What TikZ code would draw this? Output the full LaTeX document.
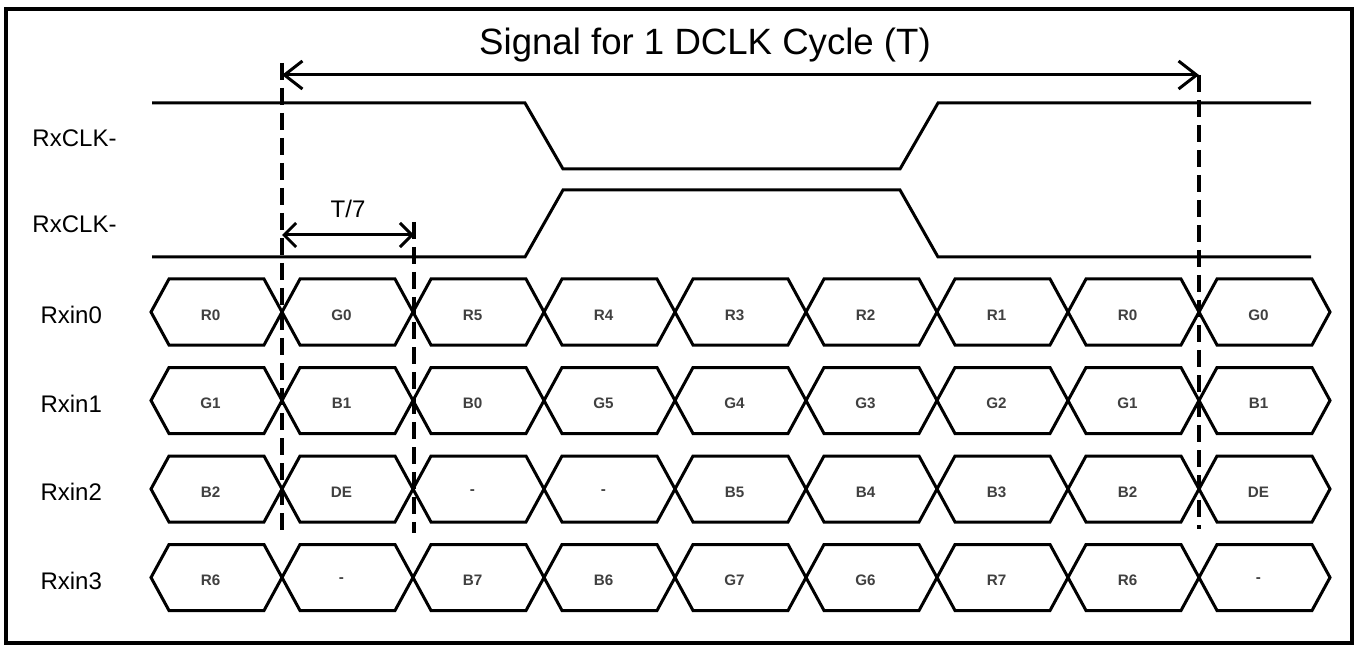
\documentclass[tikz,border=0pt]{standalone}
\usepackage{fontspec}
\setmainfont{Liberation Sans}
\usetikzlibrary{arrows.meta}

\begin{document}
\begin{tikzpicture}[x=0.5pt,y=-0.5pt,line width=1.5pt,
	lbl/.style={font=\fontsize{12}{14}\selectfont,inner sep=0pt},
	bit/.style={font=\fontsize{7.6}{9}\selectfont\bfseries,text=black!75},
	guide/.style={line width=1.8pt,dash pattern=on 8.5pt off 4pt},
	cyclearrow/.style={{Straight Barb[length=9pt,width=14pt]}-{Straight Barb[length=9pt,width=14pt]}},
	steparrow/.style={{Straight Barb[length=6pt,width=12pt]}-{Straight Barb[length=6pt,width=12pt]}}]
	\newcommand{\cw}{131}
	\newcommand{\ramp}{18}
	\newcommand{\halfh}{33}
	\useasboundingbox (0,0) rectangle (1358,646);
	\draw[line width=1.6pt] (6,9) rectangle (1352,643);
	\node[font=\fontsize{18.3}{21}\selectfont] (title) at (705,45) {Signal for 1 DCLK Cycle (T)};
	\coordinate (t0) at (282,63); \coordinate (t1) at (414,222); \coordinate (t7) at (1199,75);
	\coordinate (b0) at (282,531); \coordinate (b1) at (414,533); \coordinate (b7) at (1199,529);
	\coordinate (a0) at (282,75);
	\coordinate (h0) at (282,235); \coordinate (h1) at (414,235);
	\draw[cyclearrow] (a0) -- (t7);
	\draw[steparrow] (h0) -- node[lbl,above=8pt] (tstep) {T/7} (h1);
	\foreach \x in {0,1,7}
	{
		\draw[guide] (t\x) -- (b\x);
	}
	\node[lbl,anchor=west] (clka) at (31,138) {RxCLK-};
	\node[lbl,anchor=west] (clkb) at (31,224) {RxCLK-};
	\draw (152,103) -- (525,103) -- (563,169) -- (900,169) -- (938,103) -- (1311,103);
	\draw (152,257) -- (525,257) -- (563,190) -- (900,190) -- (938,257) -- (1311,257);
	\foreach \row/\bits in {0/{R0,G0,R5,R4,R3,R2,R1,R0,G0},1/{G1,B1,B0,G5,G4,G3,G2,G1,B1},2/{B2,DE,-,-,B5,B4,B3,B2,DE},3/{R6,-,B7,B6,G7,G6,R7,R6,-}}
	{
		\pgfmathsetmacro{\ry}{312+88.5*\row}
		\node[lbl,anchor=west] (rx\row) at (39,\ry+3) {Rxin\row};
		\foreach \lab [count=\i from 0] in \bits
		{
			\pgfmathsetmacro{\cx}{151+\cw*\i}
			\draw (\cx,\ry) -- (\cx+\ramp,\ry-\halfh) -- (\cx+\cw-\ramp,\ry-\halfh) -- (\cx+\cw,\ry) -- (\cx+\cw-\ramp,\ry+\halfh) -- (\cx+\ramp,\ry+\halfh) -- cycle;
			\node[bit] (d\row-\i) at (\cx+\cw/2-6,\ry+3) {\lab};
		}
	}
\end{tikzpicture}
\end{document}
